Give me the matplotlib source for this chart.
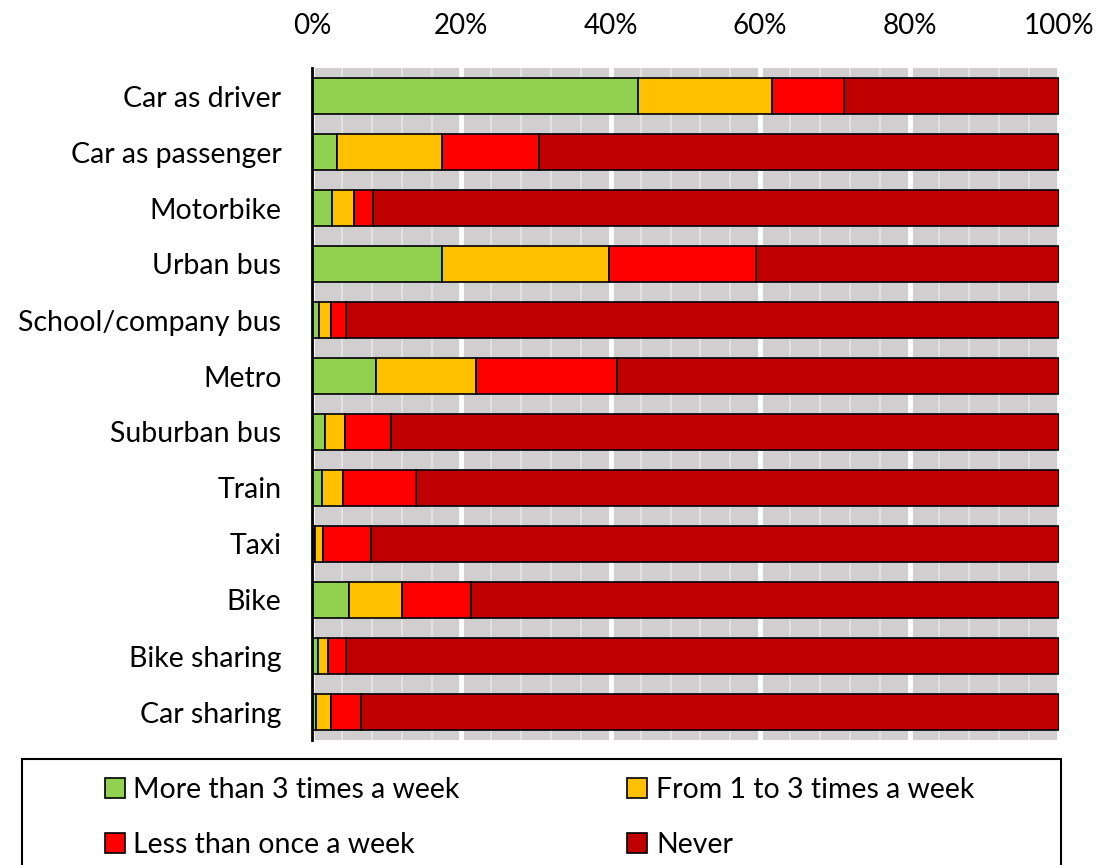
import matplotlib.pyplot as plt
import numpy as np
from matplotlib.patches import Patch, Rectangle
from matplotlib.ticker import MultipleLocator, PercentFormatter

modes = ['Car as driver', 'Car as passenger', 'Motorbike', 'Urban bus',
         'School/company bus', 'Metro', 'Suburban bus', 'Train', 'Taxi',
         'Bike', 'Bike sharing', 'Car sharing']
more_3 = [43.6, 3.3, 2.7, 17.4, 0.9, 8.6, 1.7, 1.3, 0.4, 4.9, 0.8, 0.6]
one_to_3 = [18.0, 14.1, 2.9, 22.3, 1.6, 13.3, 2.7, 2.8, 1.1, 7.1, 1.4, 1.9]
less_once = [9.6, 13.0, 2.6, 19.8, 2.1, 18.9, 6.2, 9.8, 6.4, 9.3, 2.4, 4.0]
never = [28.8, 69.6, 91.8, 40.5, 95.4, 59.2, 89.4, 86.1, 92.1, 78.7, 95.4, 93.5]

series = [('More than 3 times a week', more_3, '#92D050'),
          ('From 1 to 3 times a week', one_to_3, '#FFC000'),
          ('Less than once a week', less_once, '#FF0000'),
          ('Never', never, '#C00000')]

plt.rcParams['font.family'] = ['Lato', 'DejaVu Sans']

fig = plt.figure(figsize=(10.99, 8.65), dpi=100)
ax = fig.add_axes([312 / 1099, 1 - 740 / 865, 747 / 1099, 672 / 865])
ax.set_facecolor('#D0CECE')

y = np.arange(len(modes))
left = np.zeros(len(modes))
for name, vals, col in series:
    ax.barh(y, vals, left=left, height=0.65, color=col, edgecolor='black',
            linewidth=1.2, label=name, zorder=3)
    left += np.array(vals)

ax.set_xlim(0, 100)
ax.set_ylim(len(modes) - 0.5, -0.5)
ax.xaxis.set_major_locator(MultipleLocator(20))
ax.xaxis.set_minor_locator(MultipleLocator(4))
ax.xaxis.set_major_formatter(PercentFormatter(decimals=0))
ax.grid(which='minor', axis='x', color='#E6E6E6', lw=1.2, zorder=1)
ax.grid(which='major', axis='x', color='white', lw=3.5, zorder=2)
ax.xaxis.tick_top()
ax.tick_params(axis='x', which='both', length=0, labelsize=20, pad=21)
ax.tick_params(axis='y', length=0, labelsize=20.5, pad=22)
ax.set_yticks(y)
ax.set_yticklabels(modes)
for s in ['top', 'right', 'bottom']:
    ax.spines[s].set_visible(False)
ax.spines['left'].set_linewidth(2)
ax.spines['left'].set_zorder(4)

# legend box (runs off the bottom edge in the original)
fig.patches.append(Rectangle((22 / 1099, -0.02), 1039 / 1099, (865 - 759) / 865 + 0.02,
                             transform=fig.transFigure, fill=False,
                             edgecolor='black', lw=1.5))
# ncol fills column by column, so order entries to read row-wise
order = [0, 2, 1, 3]
handles = [Patch(facecolor=series[i][2], edgecolor='black', linewidth=1.2) for i in order]
labels = [series[i][0] for i in order]
fig.legend(handles, labels, ncol=2, frameon=False, fontsize=20.5,
           loc='upper left', bbox_to_anchor=(79 / 1099, 1 - 751 / 865),
           handlelength=0.7, handleheight=0.7, handletextpad=0.3,
           columnspacing=5.9, labelspacing=1.03)

fig.savefig('out.png', dpi=100)
